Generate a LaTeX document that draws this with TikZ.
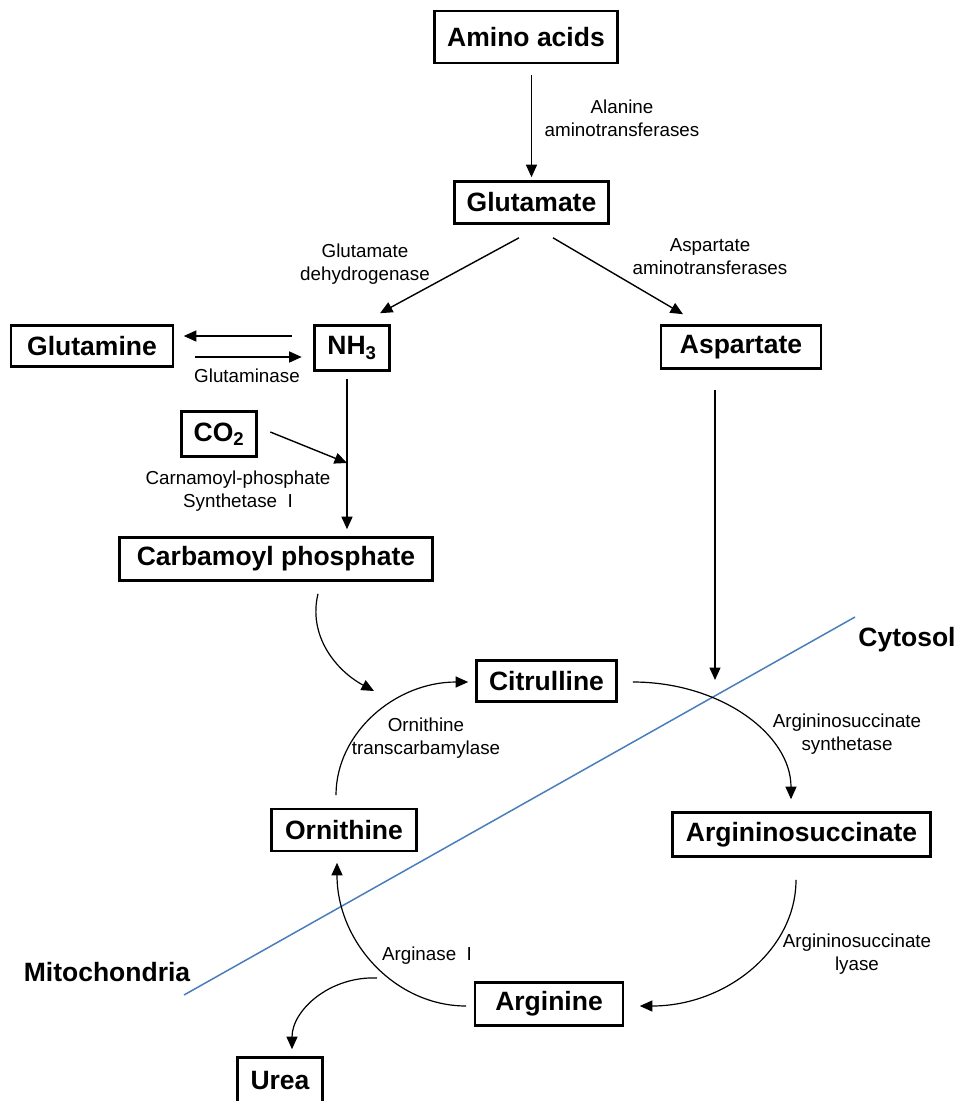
\documentclass[tikz,border=0pt]{standalone}
\usepackage{fontspec}
\setmainfont{Liberation Sans}
\usetikzlibrary{arrows.meta}
\definecolor{memblue}{HTML}{4A7EBB}
\begin{document}
\begin{tikzpicture}[x=1pt,y=1pt,
  box/.style={draw, line width=2.6pt, inner sep=0pt, font=\fontsize{26.5}{30}\selectfont\bfseries},
  lbl/.style={align=center, font=\fontsize{18.8}{22.8}\selectfont, inner sep=0pt},
  region/.style={font=\fontsize{26.5}{30}\selectfont\bfseries, inner sep=0pt},
  arr/.style={line width=1.4pt, -{Triangle[length=12.5pt,width=11pt]}},
  carr/.style={line width=1.2pt, -{Triangle[length=12.5pt,width=11pt]}},
]
\useasboundingbox (0,0) rectangle (957,-1101);
\clip (0,0) rectangle (957,-1101);

% membrane
\draw[memblue, line width=1.5pt] (184,-995) -- (855,-617);
\node[region] (cyto) at (907,-640) {Cytosol};
\node[region] (mito) at (107,-972) {Mitochondria};

% boxes
\node[box, minimum width=183, minimum height=52] (amino) at (526,-37) {Amino acids};
\node[box, minimum width=154, minimum height=42] (glutamate) at (531.5,-202.5) {Glutamate};
\node[box, minimum width=162, minimum height=41] (glutamine) at (92,-346) {Glutamine};
\node[box, minimum width=75, minimum height=45] (nh3) at (352,-348) {NH\textsubscript{3}};
\node[box, minimum width=160, minimum height=43] (aspartate) at (741,-347) {Aspartate};
\node[box, minimum width=75, minimum height=45] (co2) at (219,-434) {CO\textsubscript{2}};
\node[box, minimum width=313, minimum height=43] (carbamoyl) at (276,-559) {Carbamoyl phosphate};
\node[box, minimum width=140, minimum height=41] (citrulline) at (546.5,-681) {Citrulline};
\node[box, minimum width=145, minimum height=42] (ornithine) at (344,-830) {Ornithine};
\node[box, minimum width=258, minimum height=44] (argsuc) at (801.5,-834.5) {Argininosuccinate};
\node[box, minimum width=148, minimum height=43] (arginine) at (549,-1004) {Arginine};
\node[box, minimum width=85, minimum height=45] (urea) at (280,-1080) {Urea};

% labels
\node[lbl] (l1) at (622,-118.5) {Alanine\\aminotransferases};
\node[lbl] (l2) at (365,-264) {Glutamate\\dehydrogenase};
\node[lbl] (l3) at (710,-257) {Aspartate\\aminotransferases};
\node[lbl] (l4) at (247,-376) {Glutaminase};
\node[lbl] (l5) at (238,-491) {Carnamoyl-phosphate\\Synthetase\ \ I};
\node[lbl] (l6) at (426,-738.5) {Ornithine\\transcarbamylase};
\node[lbl] (l7) at (847,-734) {Argininosuccinate\\synthetase};
\node[lbl] (l8) at (857,-954) {Argininosuccinate\\lyase};
\node[lbl] (l9) at (427,-956) {Arginase\ \ I};

% free ends
\coordinate (junction) at (347,-463);
\coordinate (asptip) at (715,-680);
\coordinate (cpin) at (374,-691);
\coordinate (ureastart) at (377,-978);

% straight arrows
\draw[arr, shorten <=11pt, shorten >=3pt] (glutamate.north |- amino.south) -- (glutamate.north);
\draw[arr] ([shift={(-12.5,-13)}]glutamate.south) -- ([shift={(28,11)}]nh3.north);
\draw[arr] ([shift={(21.5,-13)}]glutamate.south) -- ([shift={(-58,10)}]aspartate.north);
\draw[arr] ([shift={(-21.5,12)}]nh3.west) -- ([shift={(9.5,10)}]glutamine.east);
\draw[arr] ([shift={(20.5,-11)}]glutamine.east) -- ([shift={(-11.5,-9)}]nh3.west);
\draw[arr] ([shift={(-5,-7)}]nh3.south) -- ([shift={(71,7)}]carbamoyl.north);
\draw[arr] ([shift={(12.5,2)}]co2.east) -- (junction);
\draw[arr] ([shift={(-26,-20)}]aspartate.south) -- (asptip);

% curved arrows
\draw[carr] ([shift={(42,-12)}]carbamoyl.south) .. controls (308,-635) and (335,-670) .. (cpin);
\draw[carr] ([shift={(-8,12.5)}]ornithine.north) .. controls (336,-733) and (395,-682) .. ([shift={(-7,-1)}]citrulline.west);
\draw[carr] ([shift={(15,-1)}]citrulline.east) .. controls (720,-682) and (791,-734) .. ([shift={(-10.5,12)}]argsuc.north);
\draw[carr] ([shift={(-5.5,-22)}]argsuc.south) .. controls (796,-950) and (726,-1006) .. ([shift={(15.5,-2)}]arginine.east);
\draw[carr] ([shift={(-7.5,-2)}]arginine.west) .. controls (395,-1006) and (337,-942) .. ([shift={(-7,-10.5)}]ornithine.south);
\draw[carr] (ureastart) .. controls (330,-976) and (292,-1010) .. ([shift={(12,7)}]urea.north);
\end{tikzpicture}
\end{document}
